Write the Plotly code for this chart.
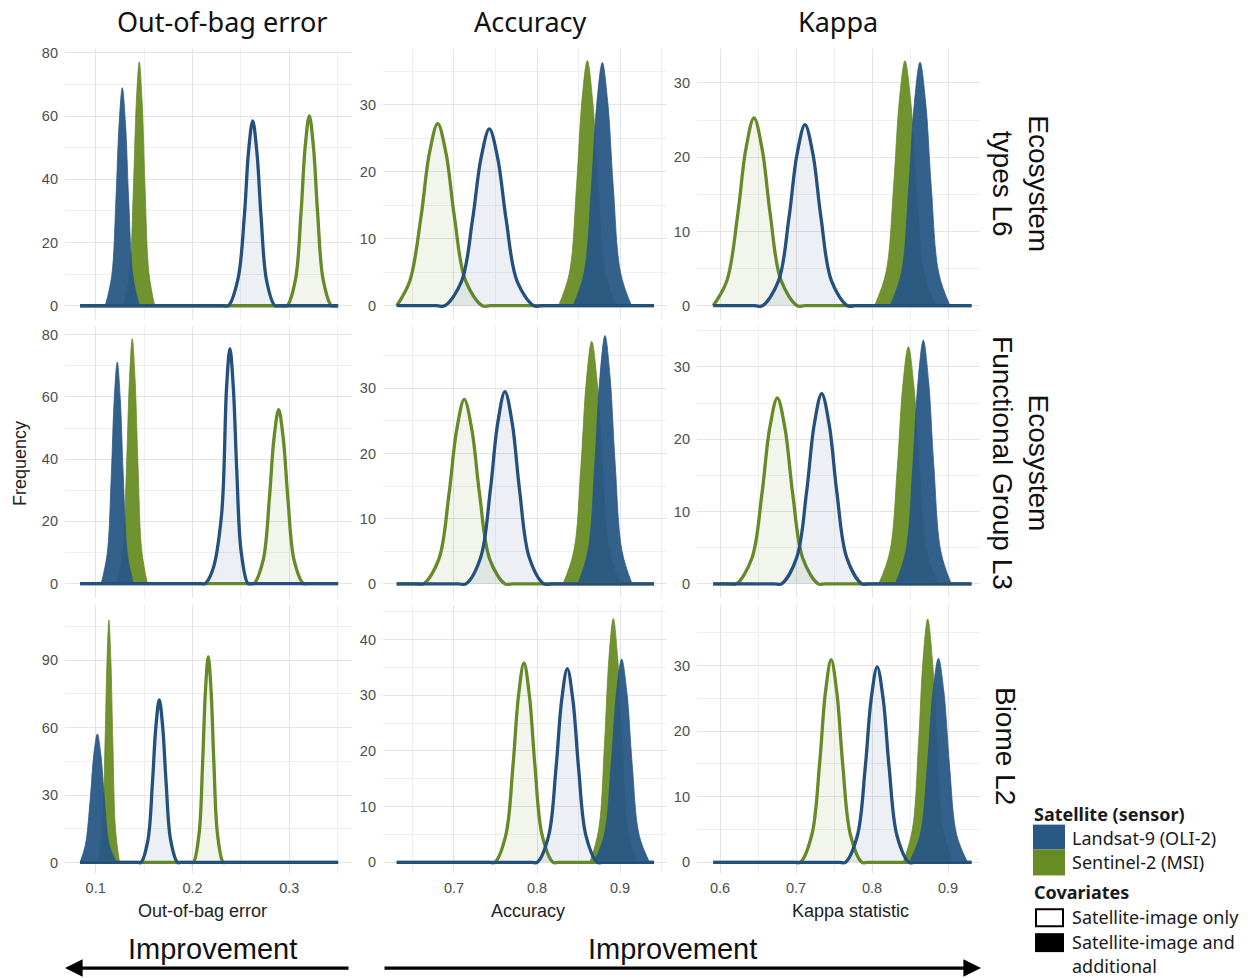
import plotly.graph_objects as go

# ---------------- data ----------------
METRICS = ["Out-of-bag error", "Accuracy", "Kappa"]
X_TITLES = ["Out-of-bag error", "Accuracy", "Kappa statistic"]
LEVELS = ["Ecosystem<br>types L6", "Ecosystem<br>Functional Group L3", "Biome L2"]
SENSORS = ["Landsat-9 (OLI-2)", "Sentinel-2 (MSI)"]
COVARIATES = ["Satellite-image only", "Satellite-image and<br>additional"]

# curve order in every panel: Sentinel+additional, Landsat+additional, Sentinel image-only, Landsat image-only
CURVES = [("Sentinel-2 (MSI)", "add"), ("Landsat-9 (OLI-2)", "add"),
          ("Sentinel-2 (MSI)", "img"), ("Landsat-9 (OLI-2)", "img")]

# data extent of the density estimates per metric (column)
X_EXTENT = [(0.0838, 0.3505), (0.631, 0.941), (0.591, 0.931)]

# --- Ecosystem types L6
L6_OOB_X = [
    [0.129, 0.135, 0.139, 0.142, 0.145, 0.148, 0.151, 0.155, 0.161],
    [0.1099, 0.1165, 0.1209, 0.1242, 0.1275, 0.1308, 0.1341, 0.1385, 0.1451],
    [0.2933, 0.2977, 0.3063, 0.3121, 0.3164, 0.3207, 0.3250, 0.3293, 0.3351, 0.3437, 0.3481],
    [0.2320, 0.2370, 0.2470, 0.2536, 0.2579, 0.2622, 0.2665, 0.2708, 0.2766, 0.2852, 0.2896]]
L6_OOB_Y = [
    [0, 10.4, 37.6, 64.5, 77.2, 64.5, 37.6, 10.4, 0],
    [0, 9.3, 33.6, 57.6, 69.0, 57.6, 33.6, 9.3, 0],
    [0, 0, 8.1, 29.3, 50.2, 60.1, 50.2, 29.3, 8.1, 0, 0],
    [0, 0, 8.5, 28.5, 48.8, 58.5, 48.8, 28.5, 7.9, 0, 0]]
L6_ACC_X = [
    [0.8260, 0.8390, 0.8476, 0.8541, 0.8606, 0.8671, 0.8736, 0.8822, 0.8952],
    [0.8435, 0.8567, 0.8655, 0.8721, 0.8787, 0.8853, 0.8919, 0.9007, 0.9139],
    [0.6166, 0.6266, 0.6468, 0.6602, 0.6703, 0.6804, 0.6905, 0.7006, 0.7140, 0.7342, 0.7442],
    [0.6788, 0.6888, 0.7090, 0.7224, 0.7325, 0.7426, 0.7527, 0.7628, 0.7762, 0.7964, 0.8064]]
L6_ACC_Y = [
    [0, 4.9, 17.8, 30.6, 36.6, 30.6, 17.8, 4.9, 0],
    [0, 4.9, 17.7, 30.3, 36.3, 30.3, 17.7, 4.9, 0],
    [0, 0, 3.7, 13.2, 22.7, 27.2, 22.7, 13.2, 3.7, 0, 0],
    [0, 0, 3.6, 12.9, 22.0, 26.4, 22.0, 12.9, 3.6, 0, 0]]
L6_KAP_X = [
    [0.8034, 0.8184, 0.8284, 0.8359, 0.8434, 0.8509, 0.8584, 0.8684, 0.8834],
    [0.8238, 0.8386, 0.8484, 0.8558, 0.8632, 0.8706, 0.8780, 0.8878, 0.9026],
    [0.5771, 0.5877, 0.6091, 0.6233, 0.6340, 0.6447, 0.6554, 0.6661, 0.6803, 0.7017, 0.7123],
    [0.6453, 0.6558, 0.6768, 0.6908, 0.7013, 0.7118, 0.7223, 0.7328, 0.7468, 0.7678, 0.7783]]
L6_KAP_Y = [
    [0, 4.5, 16.1, 27.6, 33.0, 27.6, 16.1, 4.5, 0],
    [0, 4.4, 16.0, 27.4, 32.8, 27.4, 16.0, 4.4, 0],
    [0, 0, 3.4, 12.3, 21.1, 25.3, 21.1, 12.3, 3.4, 0, 0],
    [0, 0, 3.3, 11.9, 20.4, 24.4, 20.4, 11.9, 3.3, 0, 0]]

# --- Ecosystem Functional Group L3
L3_OOB_X = [
    [0.1221, 0.1280, 0.1319, 0.1349, 0.1378, 0.1407, 0.1437, 0.1476, 0.1535],
    [0.1057, 0.1119, 0.1161, 0.1192, 0.1223, 0.1254, 0.1285, 0.1327, 0.1389],
    [0.2586, 0.2634, 0.2730, 0.2794, 0.2842, 0.2890, 0.2938, 0.2986, 0.3050, 0.3146, 0.3194],
    [0.2080, 0.2130, 0.2210, 0.2300, 0.2352, 0.2387, 0.2422, 0.2457, 0.2503, 0.2573, 0.2607]]
L3_OOB_Y = [
    [0, 10.6, 38.3, 65.7, 78.7, 65.7, 38.3, 10.6, 0],
    [0, 9.6, 34.7, 59.5, 71.2, 59.5, 34.7, 9.6, 0],
    [0, 0, 7.5, 27.2, 46.7, 55.9, 46.7, 27.2, 7.5, 0, 0],
    [0, 0, 4.5, 22.0, 63.0, 75.5, 63.0, 36.8, 10.2, 0, 0]]
L3_ACC_X = [
    [0.8313, 0.8443, 0.8529, 0.8594, 0.8659, 0.8724, 0.8789, 0.8875, 0.9005],
    [0.8493, 0.8615, 0.8697, 0.8758, 0.8819, 0.8880, 0.8941, 0.9023, 0.9145],
    [0.6543, 0.6634, 0.6818, 0.6940, 0.7032, 0.7124, 0.7216, 0.7308, 0.7430, 0.7614, 0.7705],
    [0.7055, 0.7144, 0.7320, 0.7438, 0.7526, 0.7614, 0.7702, 0.7790, 0.7908, 0.8084, 0.8173]]
L3_ACC_Y = [
    [0, 5.0, 18.1, 31.1, 37.2, 31.1, 18.1, 5.0, 0],
    [0, 5.1, 18.6, 31.8, 38.1, 31.8, 18.6, 5.1, 0],
    [0, 0, 3.8, 13.8, 23.6, 28.3, 23.6, 13.8, 3.8, 0, 0],
    [0, 0, 4.0, 14.4, 24.6, 29.5, 24.6, 14.4, 4.0, 0, 0]]
L3_KAP_X = [
    [0.8088, 0.8234, 0.8332, 0.8405, 0.8478, 0.8551, 0.8624, 0.8722, 0.8868],
    [0.8307, 0.8445, 0.8537, 0.8606, 0.8675, 0.8744, 0.8813, 0.8905, 0.9043],
    [0.6116, 0.6216, 0.6418, 0.6552, 0.6653, 0.6754, 0.6855, 0.6956, 0.7090, 0.7292, 0.7392],
    [0.6711, 0.6810, 0.7008, 0.7140, 0.7239, 0.7338, 0.7437, 0.7536, 0.7668, 0.7866, 0.7965]]
L3_KAP_Y = [
    [0, 4.4, 16.0, 27.4, 32.8, 27.4, 16.0, 4.4, 0],
    [0, 4.5, 16.4, 28.1, 33.7, 28.1, 16.4, 4.5, 0],
    [0, 0, 3.5, 12.5, 21.5, 25.7, 21.5, 12.5, 3.5, 0, 0],
    [0, 0, 3.6, 12.8, 22.0, 26.3, 22.0, 12.8, 3.6, 0, 0]]

# --- Biome L2
L2_OOB_X = [
    [0.1028, 0.1069, 0.1096, 0.1117, 0.1137, 0.1157, 0.1178, 0.1205, 0.1246],
    [0.0838, 0.0893, 0.0943, 0.0980, 0.1017, 0.1054, 0.1091, 0.1141, 0.1215],
    [0.1981, 0.2009, 0.2067, 0.2105, 0.2134, 0.2163, 0.2192, 0.2221, 0.2259, 0.2317, 0.2345],
    [0.1433, 0.1468, 0.1539, 0.1586, 0.1622, 0.1657, 0.1692, 0.1728, 0.1775, 0.1846, 0.1881]]
L2_OOB_Y = [
    [0, 14.6, 52.5, 90.1, 107.9, 90.1, 52.5, 14.6, 0],
    [0, 7.7, 27.9, 47.8, 57.2, 47.8, 27.9, 7.7, 0],
    [0, 0, 12.4, 44.6, 76.5, 91.6, 76.5, 44.6, 12.4, 0, 0],
    [0, 0, 9.8, 35.3, 60.5, 72.4, 60.5, 35.3, 9.8, 0, 0]]
L2_ACC_X = [
    [0.8637, 0.8743, 0.8813, 0.8866, 0.8919, 0.8972, 0.9025, 0.9095, 0.9201],
    [0.8684, 0.8810, 0.8894, 0.8957, 0.9020, 0.9083, 0.9146, 0.9230, 0.9356],
    [0.7425, 0.7491, 0.7623, 0.7711, 0.7777, 0.7843, 0.7909, 0.7975, 0.8063, 0.8195, 0.8261],
    [0.7936, 0.8003, 0.8139, 0.8229, 0.8297, 0.8365, 0.8433, 0.8501, 0.8591, 0.8727, 0.8794]]
L2_ACC_Y = [
    [0, 5.9, 21.3, 36.6, 43.8, 36.6, 21.3, 5.9, 0],
    [0, 4.9, 17.8, 30.5, 36.5, 30.5, 17.8, 4.9, 0],
    [0, 0, 4.8, 17.4, 29.9, 35.8, 29.9, 17.4, 4.8, 0, 0],
    [0, 0, 4.7, 16.9, 29.1, 34.8, 29.1, 16.9, 4.7, 0, 0]]
L2_KAP_X = [
    [0.8410, 0.8531, 0.8612, 0.8672, 0.8733, 0.8794, 0.8854, 0.8935, 0.9056],
    [0.8490, 0.8634, 0.8730, 0.8802, 0.8874, 0.8946, 0.9018, 0.9114, 0.9258],
    [0.6979, 0.7056, 0.7208, 0.7310, 0.7386, 0.7462, 0.7538, 0.7614, 0.7716, 0.7868, 0.7945],
    [0.7570, 0.7649, 0.7806, 0.7911, 0.7989, 0.8068, 0.8147, 0.8225, 0.8330, 0.8487, 0.8566]]
L2_KAP_Y = [
    [0, 5.0, 18.1, 31.0, 37.1, 31.0, 18.1, 5.0, 0],
    [0, 4.2, 15.1, 26.0, 31.1, 26.0, 15.1, 4.2, 0],
    [0, 0, 4.2, 15.0, 25.8, 30.9, 25.8, 15.0, 4.2, 0, 0],
    [0, 0, 4.0, 14.5, 24.9, 29.8, 24.9, 14.5, 4.0, 0, 0]]

PANELS_X = [[L6_OOB_X, L6_ACC_X, L6_KAP_X], [L3_OOB_X, L3_ACC_X, L3_KAP_X], [L2_OOB_X, L2_ACC_X, L2_KAP_X]]
PANELS_Y = [[L6_OOB_Y, L6_ACC_Y, L6_KAP_Y], [L3_OOB_Y, L3_ACC_Y, L3_KAP_Y], [L2_OOB_Y, L2_ACC_Y, L2_KAP_Y]]

# ---------------- layout / style ----------------
W, H = 1250, 978
COL_PX = [(65, 352), (383, 667), (697, 980)]
ROW_PX = [(45, 316), (323, 596), (603, 873)]
X_RANGE = [(0.0683, 0.3648), (0.6145, 0.9566), (0.5697, 0.9421)]
Y_RANGE = [[(-4.1, 81.3), (-1.94, 38.36), (-1.75, 34.6)],
           [(-4.5, 82.9), (-2.1, 39.6), (-1.9, 35.7)],
           [(-4.9, 114.8), (-2.0, 46.3), (-1.7, 39.3)]]
Y_DTICK = [[20, 10, 10], [20, 10, 10], [30, 10, 10]]

BLUE = "rgba(40,88,134,0.95)"
BLUE_LINE = "#24507e"
GREEN = "rgba(104,140,36,0.95)"
GREEN_LINE = "#658a27"
BLUE_LIGHT = "rgba(40,88,134,0.09)"
GREEN_LIGHT = "rgba(104,140,36,0.09)"
STYLE = {
    ("Landsat-9 (OLI-2)", "add"): dict(line=BLUE, fill=BLUE, width=0.8),
    ("Sentinel-2 (MSI)", "add"): dict(line=GREEN, fill=GREEN, width=0.8),
    ("Landsat-9 (OLI-2)", "img"): dict(line=BLUE_LINE, fill=BLUE_LIGHT, width=3.3),
    ("Sentinel-2 (MSI)", "img"): dict(line=GREEN_LINE, fill=GREEN_LIGHT, width=3.3),
}
TICK_FONT = dict(family="Liberation Sans", size=14.5, color="#4d4d4d")
GRID = "#e4e4e4"
MINOR_GRID = "#efefef"


def px(x):
    return x / W


def py(y):
    return 1 - y / H


fig = go.Figure()
layout = {}

for r in range(3):
    for c in range(3):
        i = r * 3 + c + 1
        xa = "x" if i == 1 else f"x{i}"
        ya = "y" if i == 1 else f"y{i}"
        xmin, xmax = X_EXTENT[c]
        for k, key in enumerate(CURVES):
            xs = list(PANELS_X[r][c][k])
            ys = list(PANELS_Y[r][c][k])
            st = STYLE[key]
            if key[1] == "img":
                pts = [(a, b) for a, b in zip(xs, ys) if xmin <= a <= xmax]
                if pts[0][0] > xmin:
                    pts = [(xmin, 0)] + pts
                if pts[-1][0] < xmax:
                    pts = pts + [(xmax, 0)]
                xs = [p[0] for p in pts]
                ys = [p[1] for p in pts]
            fig.add_trace(go.Scatter(
                x=xs, y=ys, xaxis=xa, yaxis=ya, mode="lines",
                line=dict(color=st["line"], width=st["width"], shape="spline", smoothing=1.0),
                fill="tozeroy", fillcolor=st["fill"], hoverinfo="skip", showlegend=False,
            ))
        x0, x1 = COL_PX[c]
        y0, y1 = ROW_PX[r]
        xkey = "xaxis" if i == 1 else f"xaxis{i}"
        ykey = "yaxis" if i == 1 else f"yaxis{i}"
        layout[xkey] = dict(
            domain=[px(x0), px(x1)], range=list(X_RANGE[c]), anchor=ya,
            showgrid=True, gridcolor=GRID, gridwidth=1, zeroline=False, showline=False,
            tick0=0, dtick=0.1, ticks="", showticklabels=(r == 2), tickfont=TICK_FONT,
            ticklabelstandoff=4,
            minor=dict(dtick=0.05, tick0=0, showgrid=True, gridcolor=MINOR_GRID, gridwidth=1),
            fixedrange=True,
        )
        dt = Y_DTICK[r][c]
        layout[ykey] = dict(
            domain=[py(y1), py(y0)], range=list(Y_RANGE[r][c]), anchor=xa,
            showgrid=True, gridcolor=GRID, gridwidth=1, zeroline=False, showline=False,
            tick0=0, dtick=dt, ticks="", tickfont=TICK_FONT, ticklabelstandoff=6,
            minor=dict(dtick=dt / 2, tick0=0, showgrid=True, gridcolor=MINOR_GRID, gridwidth=1),
            fixedrange=True,
        )

ann = []
TITLE_CX = [222, 530, 838]
for c, t in enumerate(METRICS):
    ann.append(dict(text=t, x=px(TITLE_CX[c]), y=py(18), xref="paper", yref="paper",
                    showarrow=False, xanchor="center", yanchor="middle",
                    font=dict(family="Noto Sans", size=27, color="#111111")))
XT_CX = [202, 528, 850]
for c, t in enumerate(X_TITLES):
    ann.append(dict(text=t, x=px(XT_CX[c]), y=py(911), xref="paper", yref="paper",
                    showarrow=False, xanchor="center", yanchor="middle",
                    font=dict(family="Liberation Sans", size=18, color="#222222")))
STRIP_X = [1021, 1021, 1005]
STRIP_CY = [180, 461, 745]
for r, t in enumerate(LEVELS):
    ann.append(dict(text=t, x=px(STRIP_X[r]), y=py(STRIP_CY[r]),
                    xref="paper", yref="paper", showarrow=False, textangle=90,
                    xanchor="center", yanchor="middle",
                    font=dict(family="Liberation Sans", size=28, color="#111111")))
ann.append(dict(text="Frequency", x=px(20), y=py(462), xref="paper", yref="paper",
                showarrow=False, textangle=-90, xanchor="center", yanchor="middle",
                font=dict(family="Liberation Sans", size=18, color="#222222")))
# improvement labels and arrows
for cx in (212, 672):
    ann.append(dict(text="Improvement", x=px(cx), y=py(949), xref="paper", yref="paper",
                    showarrow=False, xanchor="center", yanchor="middle",
                    font=dict(family="Liberation Sans", size=29, color="#111111")))
ann.append(dict(text="", x=px(65), y=py(968), xref="paper", yref="paper", showarrow=True,
                ax=285, ay=0, axref="pixel", ayref="pixel", arrowhead=2, arrowsize=1.1,
                arrowwidth=3.2, arrowcolor="#000000"))
ann.append(dict(text="", x=px(981), y=py(968), xref="paper", yref="paper", showarrow=True,
                ax=-598, ay=0, axref="pixel", ayref="pixel", arrowhead=2, arrowsize=1.1,
                arrowwidth=3.2, arrowcolor="#000000"))

# custom legend
LEG_FONT = dict(family="Noto Sans", size=18, color="#1a1a1a")
ann.append(dict(text="<b>Satellite (sensor)</b>", x=px(1032), y=py(813), xref="paper", yref="paper",
                showarrow=False, xanchor="left", yanchor="middle", font=LEG_FONT))
ann.append(dict(text="<b>Covariates</b>", x=px(1032), y=py(892), xref="paper", yref="paper",
                showarrow=False, xanchor="left", yanchor="middle", font=LEG_FONT))
for j, (t, yy) in enumerate(zip(SENSORS, (837, 862))):
    ann.append(dict(text=t, x=px(1070), y=py(yy), xref="paper", yref="paper",
                    showarrow=False, xanchor="left", yanchor="middle", font=LEG_FONT))
ann.append(dict(text="Satellite-image only", x=px(1070), y=py(917), xref="paper", yref="paper",
                showarrow=False, xanchor="left", yanchor="middle", font=LEG_FONT))
ann.append(dict(text="Satellite-image and", x=px(1070), y=py(942), xref="paper", yref="paper",
                showarrow=False, xanchor="left", yanchor="middle", font=LEG_FONT))
ann.append(dict(text="additional", x=px(1070), y=py(966), xref="paper", yref="paper",
                showarrow=False, xanchor="left", yanchor="middle", font=LEG_FONT))

shapes = [
    dict(type="rect", xref="paper", yref="paper", x0=px(1033), x1=px(1065), y0=py(849), y1=py(824),
         fillcolor="#285886", line=dict(width=0)),
    dict(type="rect", xref="paper", yref="paper", x0=px(1033), x1=px(1065), y0=py(875), y1=py(849),
         fillcolor="#688c24", line=dict(width=0)),
    dict(type="rect", xref="paper", yref="paper", x0=px(1036), x1=px(1063), y0=py(926), y1=py(909),
         fillcolor="#ffffff", line=dict(color="#000000", width=2)),
    dict(type="rect", xref="paper", yref="paper", x0=px(1035), x1=px(1064), y0=py(952), y1=py(933),
         fillcolor="#000000", line=dict(width=0)),
]

fig.update_layout(
    width=W, height=H, margin=dict(l=0, r=0, t=0, b=0),
    paper_bgcolor="white", plot_bgcolor="white",
    showlegend=False, annotations=ann, shapes=shapes,
    **layout,
)

fig.write_html("out.html")
